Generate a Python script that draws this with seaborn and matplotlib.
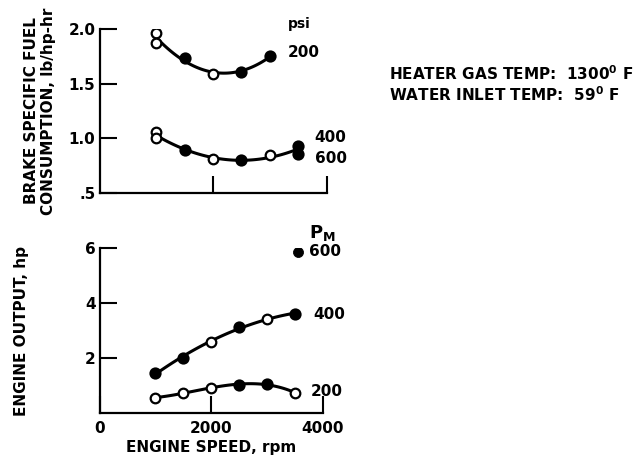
import matplotlib
matplotlib.use('Agg')
import matplotlib.pyplot as plt
import seaborn as sns
import pandas as pd

# Brake specific fuel consumption, lb/hp-hr (upper panel)
bsfc_200_speed = [1000, 1000, 1500, 2000, 2500, 3000]
bsfc_200 = [1.96, 1.87, 1.73, 1.59, 1.61, 1.75]
bsfc_200_solid = [False, False, True, False, True, True]

bsfc_hi_speed = [1000, 1000, 1500, 2000, 2500, 3000, 3500, 3500]
bsfc_hi = [1.06, 1.00, 0.89, 0.81, 0.80, 0.85, 0.93, 0.86]
bsfc_hi_solid = [False, False, True, False, True, False, True, True]

# Engine output, hp (lower panel)
hp_speed = [1000, 1500, 2000, 2500, 3000, 3500]
hp_400 = [1.45, 2.00, 2.58, 3.13, 3.42, 3.60]
hp_400_solid = [True, True, False, True, False, True]
hp_200 = [0.55, 0.73, 0.91, 1.02, 1.05, 0.73]
hp_200_solid = [False, False, False, True, True, False]
hp_600_speed = [3550]
hp_600 = [5.85]

bsfc_ticks = [0.5, 1.0, 1.5, 2.0]
bsfc_ticklabels = ['.5', '1.0', '1.5', '2.0']
hp_ticks = [2, 4, 6]
speed_ticks = [0, 2000, 4000]

sns.set_style('white')
plt.rcParams['font.family'] = ['DejaVu Sans']
plt.rcParams['font.weight'] = 'bold'
plt.rcParams['axes.labelweight'] = 'bold'
plt.rcParams['mathtext.default'] = 'regular'
plt.rcParams['text.color'] = 'black'
plt.rcParams['axes.labelcolor'] = 'black'

FS = 11


def draw_series(ax, x, y, solid, order=2):
    df = pd.DataFrame({'speed': x, 'value': y, 'solid': solid})
    sns.regplot(data=df, x='speed', y='value', order=order, ci=None,
                scatter=False, truncate=True, ax=ax,
                line_kws={'color': 'black', 'lw': 2.2})
    sns.scatterplot(data=df[~df['solid']], x='speed', y='value', ax=ax,
                    marker='o', s=48, facecolor='white', edgecolor='black',
                    linewidth=1.6, zorder=3)
    sns.scatterplot(data=df[df['solid']], x='speed', y='value', ax=ax,
                    marker='o', s=52, color='black', edgecolor='black',
                    linewidth=1.6, zorder=3)


def style_axes(ax):
    sns.despine(ax=ax)
    for side in ['left', 'bottom']:
        ax.spines[side].set_linewidth(1.6)
        ax.spines[side].set_color('black')
    ax.tick_params(left=True, bottom=True, direction='in', length=12,
                   width=1.5, colors='black', labelsize=FS, pad=3)
    ax.set_xlabel('')
    ax.set_ylabel('')


fig = plt.figure(figsize=(6.39, 4.66), dpi=100)
ax1 = fig.add_axes([0.156, 0.586, 0.355, 0.352])
ax2 = fig.add_axes([0.156, 0.114, 0.349, 0.354])

# upper panel
draw_series(ax1, bsfc_200_speed, bsfc_200, bsfc_200_solid)
draw_series(ax1, bsfc_hi_speed, bsfc_hi, bsfc_hi_solid)
ax1.set_xlim(0, 4000)
ax1.set_ylim(0.5, 2.0)
ax1.set_yticks(bsfc_ticks)
ax1.set_yticklabels(bsfc_ticklabels)
ax1.set_xticks([2000, 4000])
ax1.set_xticklabels([])
style_axes(ax1)

ax1.text(0.83, 1.03, 'psi', transform=ax1.transAxes, fontsize=FS - 1, va='center')
ax1.text(0.83, 0.854, '200', transform=ax1.transAxes, fontsize=FS, va='center')
ax1.text(0.947, 0.335, '400', transform=ax1.transAxes, fontsize=FS, va='center')
ax1.text(0.947, 0.207, '600', transform=ax1.transAxes, fontsize=FS, va='center')

# lower panel
draw_series(ax2, hp_speed, hp_400, hp_400_solid)
draw_series(ax2, hp_speed, hp_200, hp_200_solid, order=3)
sns.scatterplot(x=hp_600_speed, y=hp_600, ax=ax2, marker='o', s=52,
                color='black', edgecolor='black', zorder=3)
ax2.set_xlim(0, 4000)
ax2.set_ylim(0, 6)
ax2.set_yticks(hp_ticks)
ax2.set_xticks(speed_ticks)
ax2.set_xticklabels([str(t) for t in speed_ticks])
style_axes(ax2)
ax2.tick_params(axis='x', pad=6)
ax2.set_xlabel('ENGINE SPEED, rpm', fontsize=FS, labelpad=3)

ax2.text(0.937, 1.09, '$P_M$', transform=ax2.transAxes, fontsize=FS + 2, va='center')
ax2.text(0.94, 0.976, '600', transform=ax2.transAxes, fontsize=FS, va='center')
ax2.text(0.96, 0.594, '400', transform=ax2.transAxes, fontsize=FS, va='center')
ax2.text(0.946, 0.127, '200', transform=ax2.transAxes, fontsize=FS, va='center')

# axis titles
fig.text(40 / 639, 1 - 111 / 466, 'BRAKE SPECIFIC FUEL\nCONSUMPTION, lb/hp-hr',
         rotation=90, ha='center', va='center', fontsize=FS, linespacing=1.15)
fig.text(22 / 639, 1 - 331 / 466, 'ENGINE OUTPUT, hp', rotation=90,
         ha='center', va='center', fontsize=FS)

# test conditions
fig.text(0.609, 0.843, 'HEATER GAS TEMP:  1300$^0$ F', fontsize=FS, va='center')
fig.text(0.609, 0.796, 'WATER INLET TEMP:  59$^0$ F', fontsize=FS, va='center')

plt.savefig('out.png', dpi=100)
